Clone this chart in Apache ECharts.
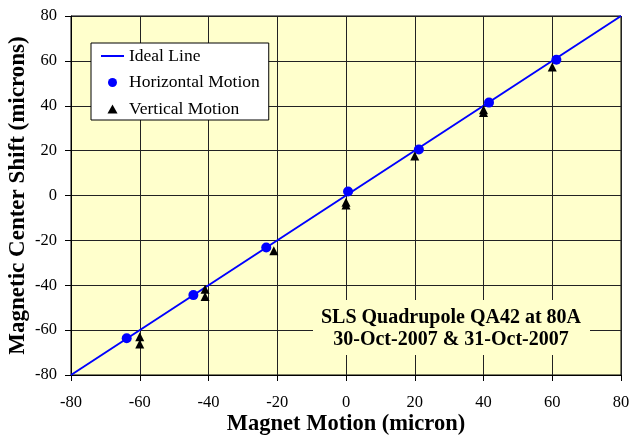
<!DOCTYPE html>
<html><head><meta charset="utf-8">
<script src="https://cdn.jsdelivr.net/npm/echarts@6/dist/echarts.min.js"></script>
<style>html,body{margin:0;padding:0;background:#fff}#c{width:629px;height:435px}</style>
</head><body><div id="c"></div>
<script>
const idealX = [-80, 80];
const idealY = [-80, 80];
const horizX = [-63.8, -44.4, -23.2, 0.6, 21.2, 41.6, 61.2];
const horizY = [-63.6, -44.4, -23.2, 1.8, 20.5, 41.4, 60.5];
const vertX = [-60, -60, -41, -41, -21, 0, 0, 20, 40, 40, 60];
const vertY = [-63, -66.2, -41.8, -45, -24.6, -3, -4.2, 17.6, 38.2, 37, 57.3];
const xTicks = [-80, -60, -40, -20, 0, 20, 40, 60, 80];
const yTicks = [-80, -60, -40, -20, 0, 20, 40, 60, 80];

const zip = (a, b) => a.map((v, i) => [v, b[i]]);
const serif = '"Liberation Serif","Times New Roman",serif';

const chart = echarts.init(document.getElementById('c'), null, {renderer: 'canvas'});
chart.setOption({
  animation: false,
  backgroundColor: '#ffffff',
  textStyle: {fontFamily: serif},
  grid: {left: 71, right: 8, top: 16, bottom: 60, outerBoundsMode: 'none', containLabel: false,
         show: true, backgroundColor: '#FFFFCC', borderColor: '#000', borderWidth: 1},
  xAxis: {
    type: 'value', min: xTicks[0], max: xTicks[xTicks.length - 1], interval: 20,
    name: 'Magnet Motion (micron)', nameLocation: 'middle', nameGap: 38, nameMoveOverlap: false,
    nameTextStyle: {fontFamily: serif, fontWeight: 'bold', fontSize: 22.5, color: '#000'},
    axisLine: {show: true, onZero: false, lineStyle: {color: '#000', width: 1}},
    axisTick: {show: true, inside: false, length: 6, lineStyle: {color: '#000'}},
    axisLabel: {fontFamily: serif, fontSize: 16.5, color: '#000', margin: 19},
    splitLine: {show: true, lineStyle: {color: '#222', width: 1}}
  },
  yAxis: {
    type: 'value', min: yTicks[0], max: yTicks[yTicks.length - 1], interval: 20,
    name: 'Magnetic Center Shift (microns)', nameLocation: 'middle', nameGap: 41, nameMoveOverlap: false,
    nameTextStyle: {fontFamily: serif, fontWeight: 'bold', fontSize: 23, color: '#000'},
    axisLine: {show: true, onZero: false, lineStyle: {color: '#000', width: 1}},
    axisTick: {show: true, inside: false, length: 6, lineStyle: {color: '#000'}},
    axisLabel: {fontFamily: serif, fontSize: 16.5, color: '#000', margin: 14},
    splitLine: {show: true, lineStyle: {color: '#222', width: 1}}
  },
  legend: {
    orient: 'vertical', left: 91, top: 43,
    backgroundColor: '#ffffff', borderColor: '#000', borderWidth: 1,
    padding: [4, 9, 2, 9], itemGap: 8.5, itemWidth: 23, itemHeight: 9,
    textStyle: {fontFamily: serif, fontSize: 17.5, color: '#000'},
    data: [
      {name: 'Ideal Line', itemStyle: {opacity: 0}},
      {name: 'Horizontal Motion', icon: 'circle', itemStyle: {opacity: 1}},
      {name: 'Vertical Motion', icon: 'path://M5,0 L10,9 L0,9 Z', itemStyle: {opacity: 1}}
    ]
  },
  graphic: [
    {type: 'rect', z: 1, shape: {x: 313, y: 300, width: 277, height: 55}, style: {fill: '#FFFFCC'}},
    {type: 'text', z: 3, x: 451, y: 329, style: {
      text: 'SLS Quadrupole QA42 at 80A\n30-Oct-2007 & 31-Oct-2007',
      font: 'bold 20px ' + serif, fill: '#000', align: 'center', verticalAlign: 'middle', lineHeight: 22
    }}
  ],
  series: [
    {name: 'Ideal Line', type: 'line', data: zip(idealX, idealY), symbol: 'none', z: 3,
     lineStyle: {color: '#0000FF', width: 2}, itemStyle: {color: '#0000FF'}},
    {name: 'Horizontal Motion', type: 'scatter', data: zip(horizX, horizY), symbol: 'circle', symbolSize: 10, z: 4,
     itemStyle: {color: '#0000FF', opacity: 1}},
    {name: 'Vertical Motion', type: 'scatter', data: zip(vertX, vertY), symbol: 'triangle', symbolSize: 9, z: 5,
     itemStyle: {color: '#000000', opacity: 1}}
  ]
});
</script></body></html>
